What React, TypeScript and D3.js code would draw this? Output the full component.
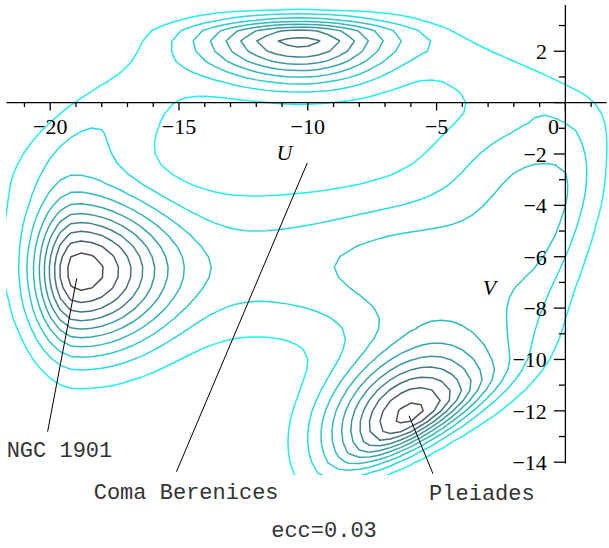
import * as d3 from "d3";
import { useMemo } from "react";

// density of stars in the (U, V) velocity plane, built from the bumps
const compName = ["NGC 1901", "Coma Berenices", "Pleiades", "channel", "plateau", "rightArc", "topRight", "leftBand", "mid"];
const compU = [-18.95, -10.3, -6.1, -9.0, -3.0, -0.6, -3.0, -18.3, -6.0];
const compV = [-6.6, 2.5, -12.25, -6.35, -9.0, -3.6, 1.3, -1.0, -6.8];
const compAngle = [0, 0, 30, 0, 0, 73, -25, 37, 0];
const compSaPos = [2.4, 2.55, 2.4, 4.5, 2.2, 2.45, 2.5, 2.8, 2.0];
const compSaNeg = [1.15, 2.75, 2.3, 7.0, 2.5, 3.3, 2.5, 2.8, 2.0];
const compSbPos = [2.0, 0.54, 1.7, 2.0, 1.5, 3.0, 0.6, 1.1, 2.0];
const compSbNeg = [2.1, 1.23, 0.76, 2.0, 2.5, 1.25, 0.8, 1.5, 2.0];
const compAmp = [9.7, 8.4, 10.1, 2.6, 0.8, 3.3, 1.25, 1.8, 1.0];

const levels = [1, 2, 3, 4, 5, 6, 7, 8, 9, 10];

const xMajor = [-20, -15, -10, -5, 0];
const xMinor = d3.range(-21, 2);
const yMajor = [2, -2, -4, -6, -8, -10, -12, -14];
const yMinor = d3.range(-14, 4);

const labels = ["NGC 1901", "Coma Berenices", "Pleiades"];
const labelTipU = [-18.97, -10.02, -6.07];
const labelTipV = [-6.84, -2.35, -12.19];
const labelEndU = [-20.1, -15.1, -5.14];
const labelEndV = [-12.81, -14.37, -14.45];
const labelTextU = [-21.69, -18.31, -5.29];
const labelTextV = [-13.79, -15.43, -15.47];

const caption = "ecc=0.03";

function density(u: number, v: number) {
  let s = 0;
  for (let k = 0; k < compAmp.length; k++) {
    const t = (compAngle[k] * Math.PI) / 180;
    const du = u - compU[k];
    const dv = v - compV[k];
    const a = du * Math.cos(t) + dv * Math.sin(t);
    const b = -du * Math.sin(t) + dv * Math.cos(t);
    const sa = a >= 0 ? compSaPos[k] : compSaNeg[k];
    const sb = b >= 0 ? compSbPos[k] : compSbNeg[k];
    s += compAmp[k] * Math.exp(-0.5 * ((a / sa) ** 2 + (b / sb) ** 2));
  }
  return s;
}

const App = () => {
  const x = d3.scaleLinear().domain([-21.7, 1.6]).range([6.4, 606.6]);
  const y = d3.scaleLinear().domain([3.8, -14.05]).range([5, 463.5]);

  // grid and contours
  const rings = useMemo(() => {
    const uMin = -24, vMax = 6, step = 0.4;
    const nx = 71, ny = 58;
    const values: number[] = new Array(nx * ny);
    for (let j = 0; j < ny; j++)
      for (let i = 0; i < nx; i++)
        values[i + j * nx] = density(uMin + i * step, vMax - j * step);
    const cs = d3.contours().size([nx, ny]).thresholds(levels)(values);
    const out: { level: number; d: string }[] = [];
    const line = d3.line<number[]>()
      .x(p => x(uMin + (p[0] - 0.5) * step))
      .y(p => y(vMax - (p[1] - 0.5) * step))
      .curve(d3.curveLinearClosed);
    cs.forEach(c => {
      c.coordinates.forEach(poly => {
        poly.forEach(ring => {
          out.push({ level: c.value, d: line(ring as number[][]) || "" });
        });
      });
    });
    return out;
  }, []);

  const color = d3.scaleLinear<string>()
    .domain([1, 10])
    .range(["#22eeee", "#4f4f5c"])
    .interpolate(d3.interpolateRgb);

  const serif = "'Liberation Serif', 'Times New Roman', serif";
  const mono = "'Liberation Mono', 'Courier New', monospace";

  return (
    <svg width={609} height={548} style={{ position: "absolute", left: 0, top: 0, background: "#fff" }}>
      <defs>
        <clipPath id="plot">
          <rect x={6} y={3} width={603} height={472} />
        </clipPath>
      </defs>

      <g clipPath="url(#plot)" fill="none" strokeWidth={1.5} strokeLinejoin="round">
        {rings.map((r, i) => (
          <path key={i} d={r.d} stroke={color(r.level)} />
        ))}
      </g>

      {/* axes */}
      <g stroke="#000" strokeWidth={1.3}>
        <line x1={x(-21.7)} x2={x(1.6)} y1={y(0)} y2={y(0)} />
        <line x1={x(0)} x2={x(0)} y1={y(3.8)} y2={y(-14.05)} />
        {xMinor.map(t => (
          <line key={"xm" + t} x1={x(t)} x2={x(t)} y1={y(0)} y2={y(0) + (xMajor.includes(t) ? 8 : 4.5)} />
        ))}
        {yMinor.map(t => (
          <line key={"ym" + t} x1={x(0)} x2={x(0) - (t % 2 === 0 ? 11.5 : 6.5)} y1={y(t)} y2={y(t)} />
        ))}
      </g>
      <g fontFamily={serif} fontSize={22} fill="#000">
        {xMajor.map(t => (
          <text key={"xl" + t} x={t === 0 ? x(t) - 12 : x(t)} y={y(0) + 31} textAnchor="middle">
            {t < 0 ? "\u2212" + Math.abs(t) : t}
          </text>
        ))}
        {yMajor.map(t => (
          <text key={"yl" + t} x={x(0) - 18.5} y={y(t) + 8} textAnchor="end">
            {t < 0 ? "\u2212" + Math.abs(t) : t}
          </text>
        ))}
        <text x={284.5} y={160} textAnchor="middle" fontStyle="italic">U</text>
        <text x={489.5} y={295} textAnchor="middle" fontStyle="italic">V</text>
      </g>

      {/* cluster labels */}
      <g stroke="#000" strokeWidth={1}>
        {labels.map((l, i) => (
          <line key={l} x1={x(labelTipU[i])} y1={y(labelTipV[i])} x2={x(labelEndU[i])} y2={y(labelEndV[i])} />
        ))}
      </g>
      <g fontFamily={mono} fontSize={22} fill="#333">
        {labels.map((l, i) => (
          <text key={l} x={x(labelTextU[i])} y={y(labelTextV[i])}>{l}</text>
        ))}
        <text x={324} y={537} textAnchor="middle">{caption}</text>
      </g>
    </svg>
  );
};

export default App;
